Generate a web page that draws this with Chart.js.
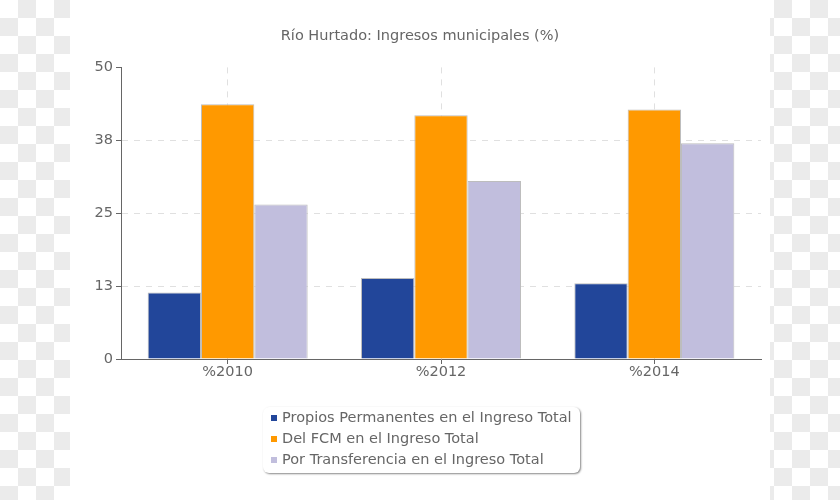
<!DOCTYPE html>
<html>
<head>
  <style>
    body {
      margin: 0;
      padding: 0;
      width: 840px;
      height: 500px;
      overflow: hidden;
      /* checkerboard on the sides */
      background: repeating-conic-gradient(#ebebeb 0 25%, #fff 0 50%) 0 0 / 36px 36px;
    }
    #page {
      position: absolute;
      left: 70px;
      top: 0;
      width: 700px;
      height: 500px;
      background: #fff;
    }
    #chart-box {
      position: absolute;
      left: 0;
      top: 0;
      width: 840px;
      height: 500px;
    }
    #legend {
      position: absolute;
      left: 263px;
      top: 407px;
      width: 317px;
      height: 66px;
      border-radius: 6px;
      box-shadow: 1px 1px 2px #888;
      font-family: "DejaVu Sans", sans-serif;
      font-size: 14.5px;
      color: #666;
      box-sizing: border-box;
    }
    #legend div {
      height: 21px;
      line-height: 21px;
      white-space: nowrap;
    }
    #legend span.sw {
      display: inline-block;
      width: 6px;
      height: 6px;
      margin-left: 8px;
      margin-right: 5px;
      vertical-align: 1px;
    }
  </style>
  <script src="https://cdn.jsdelivr.net/npm/chart.js"></script>
</head>
<body>
  <div id="page"></div>
  <div id="chart-box">
    <canvas id="chart" width="840" height="500"></canvas>
  </div>
  <div id="legend"></div>

  <script>
    const years = ["%2010", "%2012", "%2014"];
    const propios = [11.4, 13.9, 13.0];
    const fcm = [43.7, 41.8, 42.8];
    const transferencia = [26.5, 30.5, 37.0];
    const seriesNames = [
      "Propios Permanentes en el Ingreso Total",
      "Del FCM en el Ingreso Total",
      "Por Transferencia en el Ingreso Total"
    ];
    const seriesColors = ["#22469a", "#ff9900", "#c1bedd"];

    const fontFamily = "'DejaVu Sans', sans-serif";

    const ctx = document.getElementById("chart").getContext("2d");
    const chart = new Chart(ctx, {
      type: "bar",
      data: {
        labels: years,
        datasets: [
          { label: seriesNames[0], data: propios, backgroundColor: seriesColors[0] },
          { label: seriesNames[1], data: fcm, backgroundColor: seriesColors[1] },
          { label: seriesNames[2], data: transferencia, backgroundColor: seriesColors[2] }
        ]
      },
      options: {
        responsive: false,
        animation: false,
        layout: { padding: { left: 79, right: 79, top: 0, bottom: 111 } },
        datasets: {
          bar: {
            barPercentage: 1,
            categoryPercentage: 0.75,
            borderWidth: 1,
            borderColor: "#bdbdbd"
          }
        },
        scales: {
          x: {
            grid: {
              offset: false,
              color: "#e0e0e0",
              tickColor: "#666",
              tickLength: 5,
              tickBorderDash: [0, 0]
            },
            border: { color: "#666", width: 1, dash: [6, 6] },
            ticks: {
              color: "#666",
              padding: 0,
              font: { family: fontFamily, size: 14.5 }
            },
            afterFit: function (scale) { scale.height = 30; }
          },
          y: {
            min: 0,
            max: 50,
            grid: {
              color: function (c) {
                return (c.tick && (c.tick.value === 0 || c.tick.value === 50)) ? "rgba(0,0,0,0)" : "#e0e0e0";
              },
              tickColor: "#666",
              tickLength: 5,
              tickBorderDash: [0, 0]
            },
            border: { color: "#666", width: 1, dash: [6, 6] },
            ticks: {
              stepSize: 12.5,
              color: "#666",
              padding: 3,
              font: { family: fontFamily, size: 14.5 },
              callback: function (value) { return Math.round(value); }
            },
            afterFit: function (scale) { scale.width = 42; }
          }
        },
        plugins: {
          legend: { display: false },
          tooltip: { enabled: false },
          title: {
            display: true,
            text: "Río Hurtado: Ingresos municipales (%)",
            color: "#666",
            font: { family: fontFamily, size: 14.5, weight: "normal", lineHeight: 1.2 },
            padding: { top: 28, bottom: 22 }
          }
        }
      }
    });

    // legend built from the chart's datasets
    const legendEl = document.getElementById("legend");
    chart.data.datasets.forEach(function (ds) {
      const row = document.createElement("div");
      const sw = document.createElement("span");
      sw.className = "sw";
      sw.style.background = ds.backgroundColor;
      row.appendChild(sw);
      row.appendChild(document.createTextNode(ds.label));
      legendEl.appendChild(row);
    });
  </script>
</body>
</html>
